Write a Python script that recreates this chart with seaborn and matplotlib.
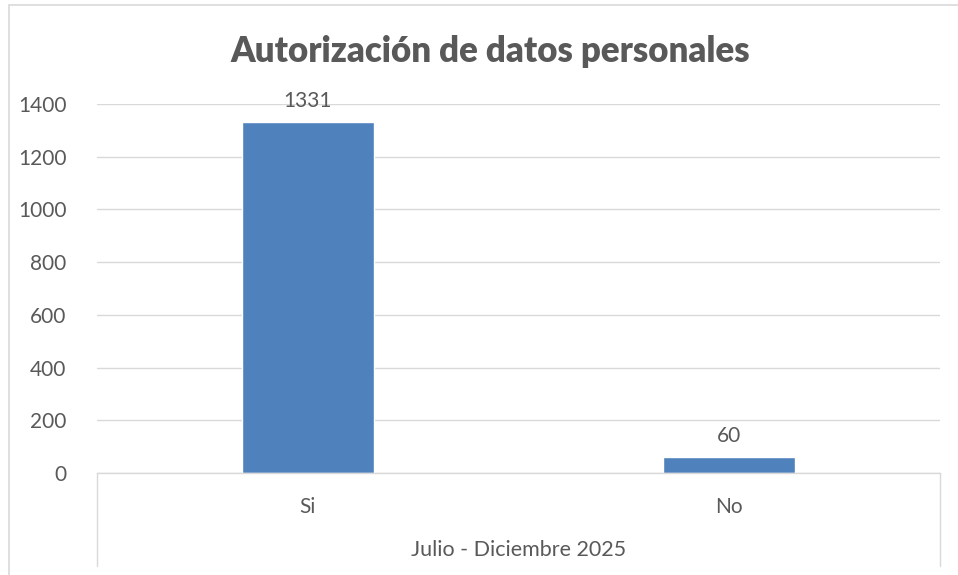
import matplotlib
matplotlib.use("Agg")
import matplotlib.pyplot as plt
from matplotlib.patches import Rectangle
import seaborn as sns

# data
categories = ["Si", "No"]
values = [1331, 60]
group_label = "Julio - Diciembre 2025"
title = "Autorización de datos personales"
y_ticks = [0, 200, 400, 600, 800, 1000, 1200, 1400]

TEXT = "#595959"
GRID = "#D9D9D9"
BAR = "#4F81BD"

sns.set_theme(style="white")
plt.rcParams["font.family"] = ["Lato", "DejaVu Sans"]

fig = plt.figure(figsize=(9.58, 5.75), dpi=100)
ax = fig.add_axes([97 / 958, 1 - 473 / 575, (940 - 97) / 958, (473 - 104) / 575])

sns.barplot(x=categories, y=values, color=BAR, width=0.313, saturation=1, ax=ax)
ax.set_xlim(-0.5, 1.5)
ax.set_ylim(0, 1400)
ax.set_yticks(y_ticks)
ax.set_yticklabels([str(t) for t in y_ticks])
ax.yaxis.grid(True, color=GRID, linewidth=1)
ax.set_axisbelow(True)
for s in ["top", "right", "left"]:
    ax.spines[s].set_visible(False)
ax.spines["bottom"].set_color(GRID)
ax.spines["bottom"].set_linewidth(1)
ax.set_xlabel("")
ax.set_ylabel("")
ax.tick_params(axis="y", length=0, pad=22, labelsize=15, labelcolor=TEXT)
ax.tick_params(axis="x", length=0, pad=17, labelsize=15, labelcolor=TEXT)

# value labels above the bars
ax.bar_label(ax.containers[0], labels=[str(v) for v in values],
             padding=8, fontsize=15, color=TEXT)

# multi-level category frame
ybot = -(566 - 473) / 369
for xx in (0, 1):
    ax.plot([xx, xx], [0, ybot], transform=ax.transAxes, color=GRID,
            linewidth=1, clip_on=False)
ax.text(0.5, -(550 - 473) / 369, group_label, transform=ax.transAxes,
        ha="center", va="center", fontsize=15.5, color=TEXT)

fig.text(490 / 958, 1 - 52 / 575, title, ha="center", va="center",
         fontsize=25, fontweight="heavy", color=TEXT)

# chart border
fig.patches.append(Rectangle((9 / 958, -0.01), 1.0, 1 - 5 / 575 + 0.01,
                             transform=fig.transFigure, fill=False,
                             edgecolor=GRID, linewidth=1.2))

fig.savefig("out.png", dpi=100)
